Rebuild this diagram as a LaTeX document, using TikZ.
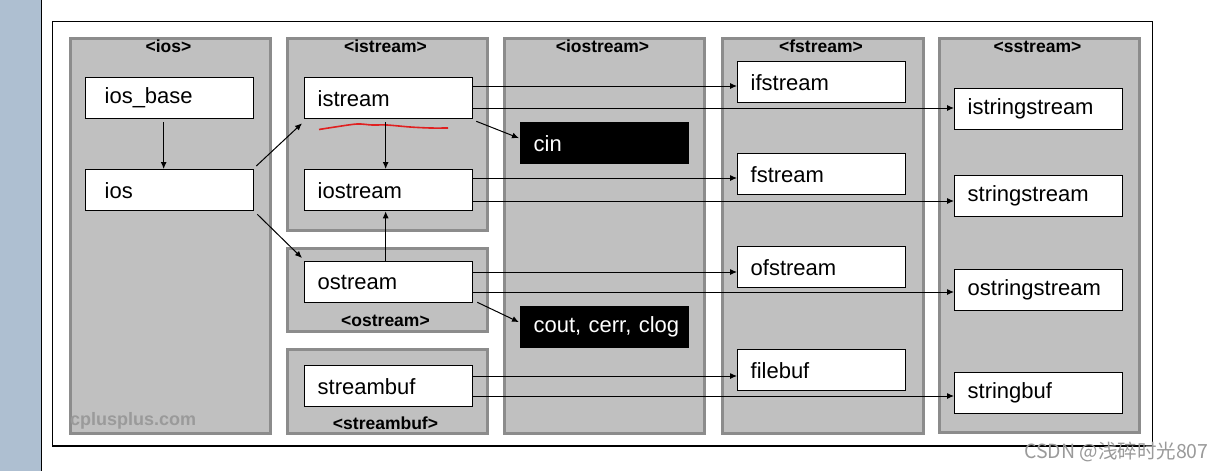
\documentclass[tikz,border=0pt]{standalone}
\usepackage{fontspec}
\setmainfont{Liberation Sans}
\newfontfamily\cjkfont{Noto Sans CJK SC}
\usetikzlibrary{arrows.meta,calc}
\definecolor{panelgray}{HTML}{C0C0C0}
\definecolor{panelline}{HTML}{8C8C8C}
\definecolor{stripblue}{HTML}{AEBFD1}
\definecolor{wmgray}{HTML}{9A9A9A}
\definecolor{squiggle}{HTML}{E02020}
\begin{document}
\begin{tikzpicture}[x=1pt,y=-1pt,
  panel/.style={draw=panelline, fill=panelgray, line width=3pt, anchor=north west, inner sep=0pt},
  ttl/.style={font=\bfseries\fontsize{17.5}{20}\selectfont, inner sep=0pt},
  wbox/.style={draw=black, fill=white, line width=1.3pt, anchor=north west,
    minimum height=41pt, text width=142pt, inner xsep=13pt, inner ysep=0pt,
    align=left, font=\fontsize{22}{26}\selectfont},
  bbox/.style={wbox, fill=black, text=white},
  arr/.style={-{Latex[length=7pt,width=6pt]}, line width=1pt},
]
\useasboundingbox (0,0) rectangle (1226,471);
\fill[white] (0,0) rectangle (1226,471);
\fill[stripblue] (0,0) rectangle (41,471);
\draw[line width=1.5pt] (41.5,0) -- (41.5,471);
\draw[line width=1.5pt] (52.5,21.5) rectangle (1152.5,446);

% panels
\node[panel, minimum width=200pt, minimum height=395pt] (pios) at (68.5,36.5) {};
\node[panel, minimum width=200pt, minimum height=192pt] (pistream) at (285.5,36.5) {};
\node[panel, minimum width=200pt, minimum height=83pt] (postream) at (285.5,246.5) {};
\node[panel, minimum width=200pt, minimum height=84pt] (pstreambuf) at (285.5,347.5) {};
\node[panel, minimum width=200pt, minimum height=395pt] (piostream) at (502.5,36.5) {};
\node[panel, minimum width=201pt, minimum height=395pt] (pfstream) at (720.5,36.5) {};
\node[panel, minimum width=200pt, minimum height=394pt] (psstream) at (937.5,36.5) {};

% titles
\node[ttl] (tios) at (168.5,46.5) {<ios>};
\node[ttl] (tistream) at (385.5,46.5) {<istream>};
\node[ttl] (tiostream) at (602.5,46.5) {<iostream>};
\node[ttl] (tfstream) at (821,46.5) {<fstream>};
\node[ttl] (tsstream) at (1037.5,46.5) {<sstream>};
\node[ttl] (tostream) at (385.5,321) {<ostream>};
\node[ttl] (tstreambuf) at (385.5,423) {<streambuf>};

% watermark
\node[anchor=west, inner sep=0pt, text=wmgray, font=\bfseries\fontsize{18}{20}\selectfont] (wm) at (70,421) {cplusplus.com};

% boxes
\node[wbox, text width=130pt, inner xsep=19pt] (iosbase) at (85,77) {ios\_base};
\node[wbox, text width=130pt, inner xsep=19pt] (ios) at (85,169) {ios};
\node[wbox] (istream) at (304,77) {istream};
\node[wbox] (iostream) at (304,169) {iostream};
\node[wbox] (ostream) at (304,261) {ostream};
\node[wbox] (streambuf) at (304,365) {streambuf};
\node[bbox] (cin) at (520,122) {cin};
\node[bbox] (cout) at (520,306) {\mbox{cout, cerr, clog}};
\node[wbox] (ifstream) at (737,61) {ifstream};
\node[wbox] (fstream) at (737,153) {fstream};
\node[wbox] (ofstream) at (737,246) {ofstream};
\node[wbox] (filebuf) at (737,349) {filebuf};
\node[wbox] (istringstream) at (954,88) {istringstream};
\node[wbox] (stringstream) at (954,175) {stringstream};
\node[wbox] (ostringstream) at (954,269) {ostringstream};
\node[wbox] (stringbuf) at (954,372) {stringbuf};

% red underline mark
\draw[squiggle, line width=1.6pt] plot[smooth] coordinates {(319,129.5) (335,127) (357,124) (372,125) (387,125) (410,127) (430,128) (448,128)};

% vertical arrows
\coordinate (v1) at ($(iosbase.south)+(-6,3)$);
\draw[arr] (v1) -- (v1 |- ios.north);
\coordinate (v2) at ($(istream.south)+(-3,3)$);
\draw[arr] (v2) -- (v2 |- iostream.north);
\coordinate (v3) at ($(ostream.north)+(-3,0)$);
\draw[arr] (v3) -- (v3 |- iostream.south);

% diagonal arrows
\draw[arr] ($(ios.north east)+(2,-3)$) -- ($(istream.south west)+(-2,4)$);
\draw[arr] ($(ios.south east)+(3,3)$) -- ($(ostream.north west)+(-2,-3)$);
\draw[arr] ($(istream.south east)+(3,2)$) -- ($(cin.west)+(-1,-5)$);
\draw[arr] ($(ostream.south east)+(4,-1)$) -- ($(cout.west)+(-1,-5)$);

% horizontal arrows
\coordinate (h1) at ($(istream.north east)+(0,9)$);
\draw[arr] (h1) -- (h1 -| ifstream.west);
\coordinate (h2) at ($(istream.north east)+(0,31)$);
\draw[arr] (h2) -- (h2 -| istringstream.west);
\coordinate (h3) at ($(iostream.north east)+(0,9)$);
\draw[arr] (h3) -- (h3 -| fstream.west);
\coordinate (h4) at ($(iostream.north east)+(0,32)$);
\draw[arr] (h4) -- (h4 -| stringstream.west);
\coordinate (h5) at ($(ostream.north east)+(0,11)$);
\draw[arr] (h5) -- (h5 -| ofstream.west);
\coordinate (h6) at ($(ostream.north east)+(0,31)$);
\draw[arr] (h6) -- (h6 -| ostringstream.west);
\coordinate (h7) at ($(streambuf.north east)+(0,11)$);
\draw[arr] (h7) -- (h7 -| filebuf.west);
\coordinate (h8) at ($(streambuf.north east)+(0,31)$);
\draw[arr] (h8) -- (h8 -| stringbuf.west);

% CSDN watermark
\node[anchor=west, inner sep=0pt, text=wmgray, font=\cjkfont\fontsize{19.5}{22}\selectfont] (csdn) at (1024,452) {CSDN @浅碎时光807};
\end{tikzpicture}
\end{document}
